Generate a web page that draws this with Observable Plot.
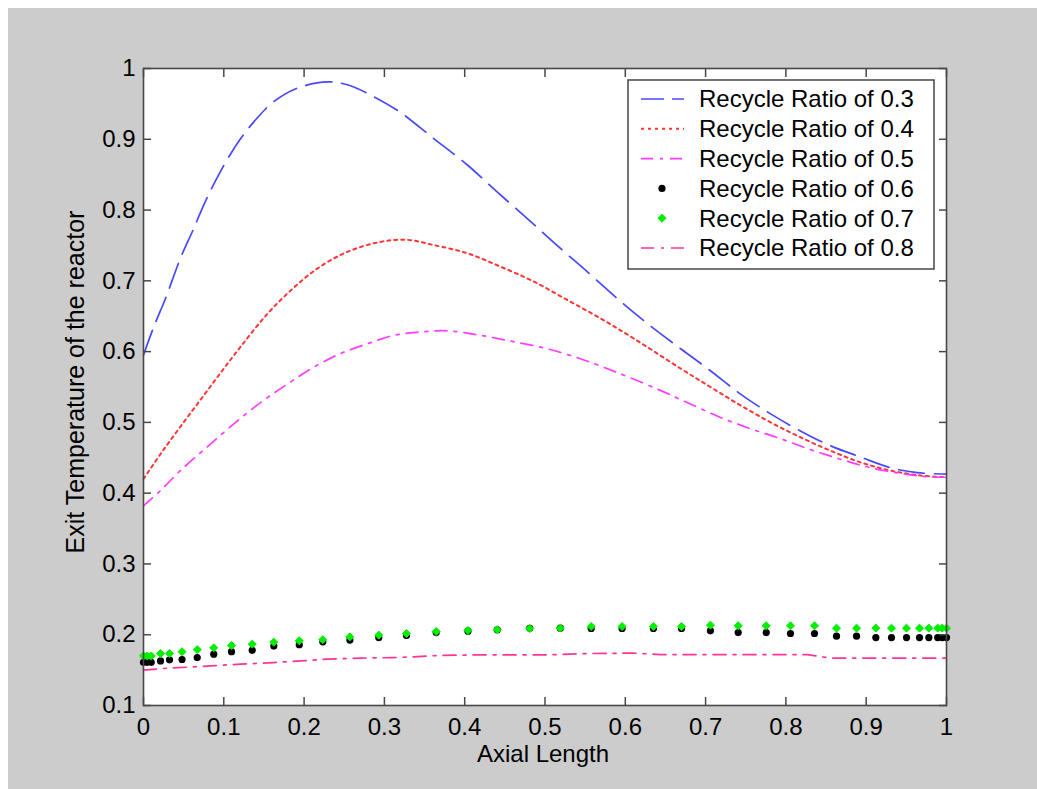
<!DOCTYPE html>
<html>
<head>
<meta charset="utf-8">
<script src="https://cdn.jsdelivr.net/npm/d3@7"></script>
<script src="https://cdn.jsdelivr.net/npm/@observablehq/plot@0.6"></script>
<style>
  html, body { margin: 0; padding: 0; background: #ffffff; }
  #chart { width: 1037px; height: 789px; }
</style>
</head>
<body>
<div id="chart"></div>
<script>
// Axis ticks and their labels
const xTicks = [0, 0.1, 0.2, 0.3, 0.4, 0.5, 0.6, 0.7, 0.8, 0.9, 1];
const xTickLabels = ["0", "0.1", "0.2", "0.3", "0.4", "0.5", "0.6", "0.7", "0.8", "0.9", "1"];
const yTicks = [0.1, 0.2, 0.3, 0.4, 0.5, 0.6, 0.7, 0.8, 0.9, 1];
const yTickLabels = ["0.1", "0.2", "0.3", "0.4", "0.5", "0.6", "0.7", "0.8", "0.9", "1"];

const xLabel = "Axial Length";
const yLabel = "Exit Temperature of the reactor";

const seriesNames = [
  "Recycle Ratio of 0.3",
  "Recycle Ratio of 0.4",
  "Recycle Ratio of 0.5",
  "Recycle Ratio of 0.6",
  "Recycle Ratio of 0.7",
  "Recycle Ratio of 0.8"
];

// Recycle ratio 0.3
const x03 = [0, 0.0128, 0.0274, 0.046, 0.0606, 0.077, 0.098, 0.121, 0.1416, 0.162, 0.191, 0.229, 0.254, 0.287, 0.320, 0.345, 0.3615, 0.403, 0.440, 0.478, 0.515, 0.5525, 0.590, 0.627, 0.669, 0.706, 0.7435, 0.781, 0.818, 0.8555, 0.893, 0.930, 0.9635, 1.0];
const y03 = [0.595, 0.635, 0.675, 0.732, 0.769, 0.812, 0.859, 0.901, 0.930, 0.953, 0.972, 0.981, 0.977, 0.960, 0.938, 0.916, 0.901, 0.864, 0.826, 0.788, 0.750, 0.713, 0.675, 0.640, 0.604, 0.573, 0.540, 0.512, 0.488, 0.467, 0.451, 0.436, 0.429, 0.427];

// Recycle ratio 0.4
const x04 = [0, 0.021, 0.046, 0.071, 0.096, 0.121, 0.154, 0.183, 0.216, 0.254, 0.295, 0.328, 0.3615, 0.403, 0.4446, 0.486, 0.5277, 0.569, 0.6106, 0.669, 0.706, 0.7435, 0.781, 0.818, 0.8555, 0.893, 0.930, 0.9676, 1.0];
const y04 = [0.420, 0.455, 0.494, 0.532, 0.570, 0.607, 0.653, 0.686, 0.717, 0.741, 0.755, 0.758, 0.7505, 0.739, 0.720, 0.699, 0.673, 0.647, 0.6185, 0.576, 0.550, 0.524, 0.500, 0.479, 0.460, 0.4435, 0.432, 0.425, 0.4225];

// Recycle ratio 0.5
const x05 = [0, 0.021, 0.046, 0.079, 0.1125, 0.1457, 0.179, 0.212, 0.245, 0.2786, 0.312, 0.343, 0.378, 0.4197, 0.461, 0.503, 0.544, 0.573, 0.640, 0.681, 0.7185, 0.756, 0.7933, 0.8306, 0.868, 0.9054, 0.943, 0.976, 1.0];
const y05 = [0.382, 0.4035, 0.432, 0.465, 0.498, 0.528, 0.554, 0.578, 0.597, 0.611, 0.623, 0.6275, 0.6294, 0.623, 0.614, 0.604, 0.590, 0.578, 0.547, 0.526, 0.507, 0.491, 0.477, 0.4615, 0.448, 0.436, 0.428, 0.4233, 0.4225];

// Solver steps shared by the 0.6 and 0.7 point series
const xSteps = [0, 0.0046, 0.0096, 0.0212, 0.0324, 0.048, 0.0669, 0.0875, 0.1096, 0.1354, 0.1623, 0.194, 0.2233, 0.257, 0.293, 0.3275, 0.3645, 0.404, 0.4405, 0.481, 0.519, 0.5575, 0.596, 0.635, 0.670, 0.706, 0.7406, 0.7755, 0.8057, 0.8356, 0.863, 0.888, 0.912, 0.9315, 0.9502, 0.9664, 0.978, 0.989, 0.9946, 1.0];

// Recycle ratio 0.6
const y06 = [0.161, 0.161, 0.161, 0.163, 0.1645, 0.165, 0.1677, 0.1725, 0.176, 0.178, 0.1839, 0.186, 0.190, 0.1924, 0.196, 0.199, 0.203, 0.205, 0.207, 0.209, 0.2093, 0.2088, 0.2088, 0.2088, 0.2088, 0.2055, 0.203, 0.203, 0.2017, 0.2017, 0.198, 0.198, 0.196, 0.196, 0.196, 0.196, 0.196, 0.196, 0.196, 0.196];

// Recycle ratio 0.7
const y07 = [0.170, 0.170, 0.170, 0.1734, 0.1734, 0.176, 0.179, 0.1815, 0.1847, 0.1867, 0.1895, 0.1914, 0.193, 0.197, 0.1994, 0.2017, 0.2045, 0.206, 0.207, 0.2088, 0.2093, 0.2116, 0.2116, 0.2116, 0.2116, 0.2135, 0.2126, 0.2126, 0.2126, 0.2126, 0.2093, 0.2093, 0.2093, 0.2093, 0.2093, 0.2093, 0.2093, 0.2093, 0.2093, 0.2093];

// Recycle ratio 0.8
const x08 = [0, 0.0295, 0.0626, 0.0834, 0.1208, 0.1623, 0.1955, 0.2288, 0.2702, 0.3117, 0.3366, 0.3657, 0.4197, 0.5027, 0.5526, 0.6106, 0.6438, 0.768, 0.8265, 0.839, 0.8555, 0.9946, 1.0];
const y08 = [0.150, 0.1527, 0.1546, 0.156, 0.1584, 0.1607, 0.163, 0.1655, 0.167, 0.1677, 0.1687, 0.1706, 0.1716, 0.1716, 0.1734, 0.174, 0.172, 0.172, 0.172, 0.1697, 0.167, 0.167, 0.167];

const rows = (xs, ys) => xs.map((x, i) => ({x, y: ys[i]}));

const colors = ["#4848ff", "#ff3434", "#ff3cff", "#000000", "#00ee00", "#ff3399"];
const dashes = ["26,10", "3,4", "12,7,3,7", null, null, "13,7,3,7"];

const xLabelOf = new Map(xTicks.map((t, i) => [t, xTickLabels[i]]));
const yLabelOf = new Map(yTicks.map((t, i) => [t, yTickLabels[i]]));

const axisColor = "#484848";
const font = "'Liberation Sans', Arial, Helvetica, sans-serif";

const chart = Plot.plot({
  width: 1037,
  height: 789,
  marginLeft: 143,
  marginRight: 91,
  marginTop: 68,
  marginBottom: 84,
  x: {domain: [0, 1]},
  y: {domain: [0.1, 1]},
  style: {fontFamily: font, fontSize: "24px", color: "#000", background: "transparent", overflow: "visible"},
  marks: [
    Plot.frame({fill: "#ffffff", stroke: null}),
    Plot.line(rows(x03, y03), {x: "x", y: "y", stroke: colors[0], strokeWidth: 1.7, strokeDasharray: dashes[0], curve: "catmull-rom"}),
    Plot.line(rows(x04, y04), {x: "x", y: "y", stroke: colors[1], strokeWidth: 2, strokeDasharray: dashes[1], curve: "catmull-rom"}),
    Plot.line(rows(x05, y05), {x: "x", y: "y", stroke: colors[2], strokeWidth: 1.7, strokeDasharray: dashes[2], curve: "catmull-rom"}),
    Plot.line(rows(x08, y08), {x: "x", y: "y", stroke: colors[5], strokeWidth: 1.7, strokeDasharray: dashes[5]}),
    Plot.dot(rows(xSteps, y06), {x: "x", y: "y", r: 3.6, fill: colors[3], stroke: null}),
    Plot.dot(rows(xSteps, y07), {x: "x", y: "y", r: 3.6, symbol: "diamond2", fill: colors[4], stroke: colors[4], strokeWidth: 1}),
    // inward ticks on all four sides
    Plot.axisX({anchor: "bottom", ticks: xTicks, tickSize: -8, tickFormat: () => "", label: null, stroke: axisColor, strokeWidth: 1.5}),
    Plot.axisX({anchor: "top", ticks: xTicks, tickSize: -8, tickFormat: () => "", label: null, stroke: axisColor, strokeWidth: 1.5}),
    Plot.axisY({anchor: "left", ticks: yTicks, tickSize: -8, tickFormat: () => "", label: null, stroke: axisColor, strokeWidth: 1.5}),
    Plot.axisY({anchor: "right", ticks: yTicks, tickSize: -8, tickFormat: () => "", label: null, stroke: axisColor, strokeWidth: 1.5}),
    // tick labels
    Plot.axisX({anchor: "bottom", ticks: xTicks, tickSize: 0, tickPadding: 12, tickFormat: d => xLabelOf.get(d), label: null, fill: "#000"}),
    Plot.axisY({anchor: "left", ticks: yTicks, tickSize: 0, tickPadding: 8, tickFormat: d => yLabelOf.get(d), label: null, fill: "#000"}),
    Plot.frame({stroke: axisColor, strokeWidth: 1.6}),
    // axis titles
    Plot.text([xLabel], {frameAnchor: "bottom", text: d => d, lineAnchor: "middle", textAnchor: "middle", dy: 49, dx: -2, fill: "#000"}),
    Plot.text([yLabel], {frameAnchor: "left", text: d => d, lineAnchor: "middle", textAnchor: "middle", rotate: -90, dx: -68, dy: -5, fontSize: 25, fill: "#000"})
  ]
});

document.getElementById("chart").appendChild(chart);

// Figure background and legend box
const svg = d3.select(chart);
svg.insert("rect", ":first-child")
  .attr("x", 8).attr("y", 8).attr("width", 1029).attr("height", 781)
  .attr("fill", "#cccccc");

const legend = svg.append("g")
  .attr("font-family", font)
  .attr("font-size", 24)
  .attr("text-anchor", "start");
legend.append("rect")
  .attr("x", 628).attr("y", 80).attr("width", 306).attr("height", 189)
  .attr("fill", "#ffffff").attr("stroke", "#505050").attr("stroke-width", 1.6);

seriesNames.forEach((name, i) => {
  const cy = 99 + i * 29.8;
  if (dashes[i] !== null) {
    legend.append("line")
      .attr("x1", 641).attr("x2", 684).attr("y1", cy).attr("y2", cy)
      .attr("stroke", colors[i]).attr("stroke-width", i === 1 ? 2 : 1.7)
      .attr("stroke-dasharray", i === 0 ? "23,8" : dashes[i]);
  } else if (i === 3) {
    legend.append("circle").attr("cx", 662).attr("cy", cy).attr("r", 3.6).attr("fill", colors[i]);
  } else {
    legend.append("path")
      .attr("transform", `translate(662,${cy})`)
      .attr("d", d3.symbol(d3.symbolDiamond2, Math.PI * 3.6 * 3.6)())
      .attr("fill", colors[i]).attr("stroke", colors[i]).attr("stroke-width", 1);
  }
  legend.append("text")
    .attr("x", 699).attr("y", cy).attr("dy", "0.35em")
    .attr("text-anchor", "start")
    .attr("fill", "#000")
    .text(name);
});
</script>
</body>
</html>
